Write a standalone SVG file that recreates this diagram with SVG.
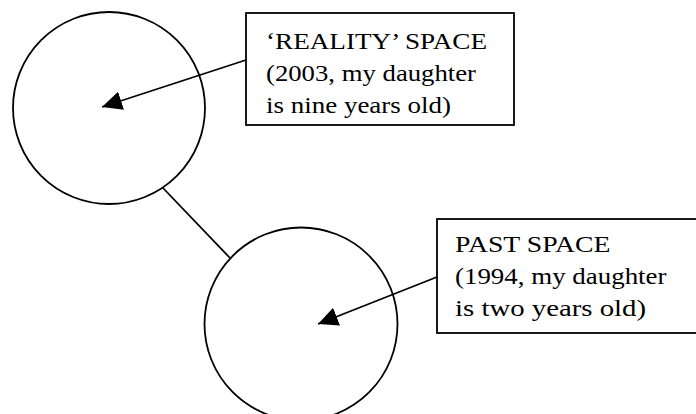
<svg xmlns="http://www.w3.org/2000/svg" width="696" height="414" viewBox="0 0 696 414">
  <style>
    .shape { fill: #fff; stroke: #000; stroke-width: 1.8; }
    .link { fill: none; stroke: #000; stroke-width: 1.8; }
    .label { font-family: "Liberation Serif", "Times New Roman", serif; font-size: 23px; fill: #000; }
  </style>
  <defs>
    <marker id="arrow" viewBox="0 -10 22 20" refX="20" refY="0" markerWidth="22" markerHeight="20" markerUnits="userSpaceOnUse" orient="auto">
      <path d="M0,-9.5 L20,0 L0,9.5 z" fill="#000"/>
    </marker>
  </defs>
  <rect width="696" height="414" fill="#fff"/>

  <g id="reality-circle">
    <circle class="shape" cx="109" cy="108" r="96"/>
  </g>
  <g id="past-circle">
    <circle class="shape" cx="301" cy="324" r="96.5"/>
  </g>

  <g id="reality-box">
    <rect class="shape" x="246" y="13" width="268" height="112"/>
    <text class="label" x="266" y="48.7" textLength="221" lengthAdjust="spacingAndGlyphs">‘REALITY’ SPACE</text>
    <text class="label" x="266" y="80.7" textLength="210" lengthAdjust="spacingAndGlyphs">(2003, my daughter</text>
    <text class="label" x="266" y="112.7" textLength="185" lengthAdjust="spacingAndGlyphs">is nine years old)</text>
  </g>

  <g id="past-box">
    <rect class="shape" x="437" y="219" width="270" height="114"/>
    <text class="label" x="455" y="251.7" textLength="155.5" lengthAdjust="spacingAndGlyphs">PAST SPACE</text>
    <text class="label" x="455" y="283.7" textLength="211.5" lengthAdjust="spacingAndGlyphs">(1994, my daughter</text>
    <text class="label" x="455" y="315.7" textLength="191" lengthAdjust="spacingAndGlyphs">is two years old)</text>
  </g>

  <g id="connectors">
    <line class="link" x1="163" y1="188" x2="230" y2="258"/>
    <line class="link" x1="246" y1="60" x2="102" y2="107" marker-end="url(#arrow)"/>
    <line class="link" x1="437" y1="277" x2="318" y2="324" marker-end="url(#arrow)"/>
  </g>
</svg>
